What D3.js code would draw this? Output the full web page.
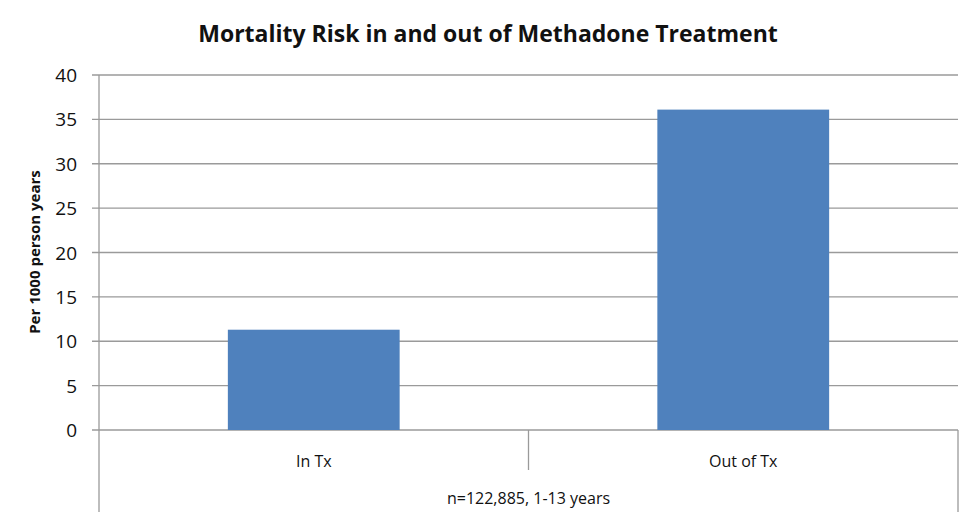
<!DOCTYPE html>
<html><head><meta charset="utf-8">
<script src="https://cdn.jsdelivr.net/npm/d3@7"></script>
<style>body{margin:0;background:#fff}svg{font-family:"Open Sans","Liberation Sans",sans-serif}</style>
</head><body><svg id="c" width="975" height="521"></svg>
<script>
const categories = ["In Tx", "Out of Tx"];
const values = [11.3, 36.1];
const yTicks = [0, 5, 10, 15, 20, 25, 30, 35, 40];
const title = "Mortality Risk in and out of Methadone Treatment";
const yLabel = "Per 1000 person years";
const groupLabel = "n=122,885, 1-13 years";

const svg = d3.select("#c");
const L = 99, R = 958, T = 75, B = 430;
const y = d3.scaleLinear().domain([0, 40]).range([B, T]);
const x = d3.scaleBand().domain(categories).range([L, R]).paddingInner(0.6).paddingOuter(0.3);
const grid = "#9a9a9a";

svg.append("g").selectAll("line").data(yTicks).join("line")
  .attr("x1", L - 7).attr("x2", R).attr("y1", d => y(d)).attr("y2", d => y(d))
  .attr("stroke", grid).attr("stroke-width", 1.3);
svg.append("g").selectAll("text").data(yTicks).join("text")
  .attr("x", 77).attr("y", d => y(d) + 7).attr("text-anchor", "end")
  .attr("font-size", 19).attr("fill", "#111").text(d => d);

svg.append("g").selectAll("rect").data(values).join("rect")
  .attr("x", (d, i) => x(categories[i])).attr("width", x.bandwidth())
  .attr("y", d => y(d)).attr("height", d => B - y(d)).attr("fill", "#4f81bd");

svg.append("line").attr("x1", L).attr("x2", L).attr("y1", T).attr("y2", 512).attr("stroke", grid).attr("stroke-width", 1.3);
svg.append("line").attr("x1", R).attr("x2", R).attr("y1", B).attr("y2", 512).attr("stroke", grid).attr("stroke-width", 1.3);
svg.append("line").attr("x1", (L + R) / 2).attr("x2", (L + R) / 2).attr("y1", B).attr("y2", 470).attr("stroke", grid).attr("stroke-width", 1.3);

svg.append("g").selectAll("text").data(categories).join("text")
  .attr("x", d => x(d) + x.bandwidth() / 2).attr("y", 467).attr("text-anchor", "middle")
  .attr("font-size", 16).attr("fill", "#111").text(d => d);
svg.append("text").attr("x", (L + R) / 2).attr("y", 504).attr("text-anchor", "middle")
  .attr("font-size", 16).attr("fill", "#111").text(groupLabel);

svg.append("text").attr("x", 488).attr("y", 42).attr("text-anchor", "middle")
  .attr("font-size", 23).attr("font-weight", "bold").attr("fill", "#111").text(title);
svg.append("text").attr("transform", "translate(40,252) rotate(-90)").attr("text-anchor", "middle")
  .attr("font-size", 15).attr("font-weight", "bold").attr("fill", "#111").text(yLabel);
</script></body></html>
